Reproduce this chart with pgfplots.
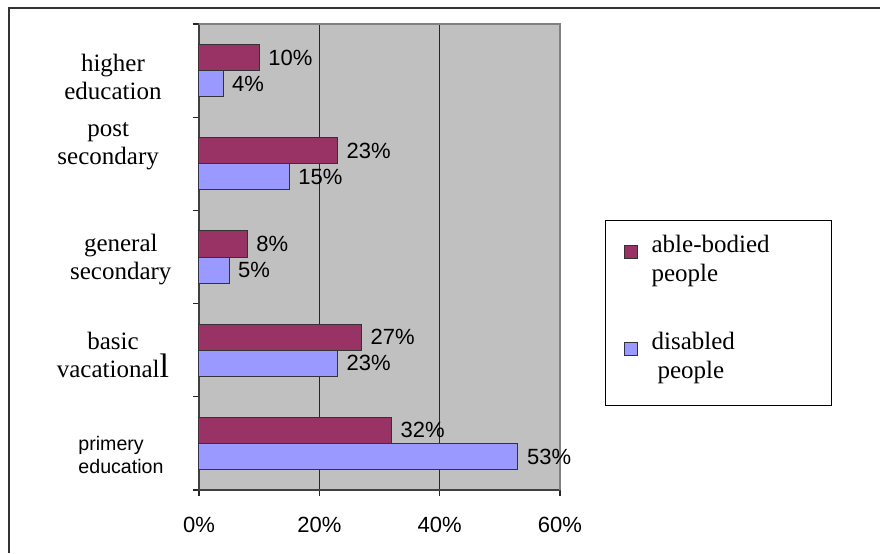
\documentclass[border=0pt]{standalone}
\usepackage{pgfplots}
\pgfplotsset{compat=1.18}
\usepackage{fontspec}
\setmainfont{Liberation Serif}
\newfontfamily\arial{Liberation Sans}
\definecolor{maroon}{HTML}{993366}
\definecolor{lav}{HTML}{9999FF}
\definecolor{bg}{HTML}{C0C0C0}
\newcommand\catfont{\fontsize{12.5}{14}\selectfont}
\newcommand\legfont{\fontsize{12.5}{14.5}\selectfont}
\newcommand\numfont{\arial\fontsize{11}{12}\selectfont}
\begin{document}
\begin{tikzpicture}
\useasboundingbox (0,0) rectangle (440pt,276.5pt);
\draw[line width=1pt, black!80] (4.5pt,0) -- (4.5pt,272.5pt) -- (440pt,272.5pt);
\begin{axis}[
  at={(99.5pt,31.5pt)}, anchor=south west,
  width=180.5pt, height=233pt, scale only axis,
  xbar, bar width=0.28,
  xmin=0, xmax=60, ymin=-0.5, ymax=4.5,
  axis background/.style={fill=bg},
  axis line style={draw=black!75, line width=0.6pt},
  xtick={0,20,40,60}, xticklabels={0\%,20\%,40\%,60\%},
  xticklabel style={font=\numfont, yshift=-7pt},
  ytick={-0.5,0.5,1.5,2.5,3.5,4.5}, yticklabels={},
  xtick pos=bottom, ytick pos=left,
  tick align=outside, major tick length=3pt,
  tick style={black!85, line width=0.6pt},
  xmajorgrids, grid style={black!85, line width=0.6pt},
  clip=false,
  point meta=x,
  nodes near coords={\pgfmathprintnumber[assume math mode=true]{\pgfplotspointmeta}\%},
  nodes near coords style={font=\numfont, anchor=west, xshift=1pt},
  legend cell align=left,
  legend style={at={(1.1247,0.5794)}, anchor=north west, draw=black, line width=0.6pt,
    inner xsep=9pt, inner ysep=4pt, row sep=18pt, column sep=5pt,
    cells={anchor=base west}, font=\legfont},
  legend image code/.code={\draw[#1, line width=0.5pt] (0pt,11.5pt) rectangle (6.5pt,18pt);},
]
\addplot[fill=maroon, draw=black!80, line width=0.5pt, bar shift=0.14]
  coordinates {(32,0) (27,1) (8,2) (23,3) (10,4)};
\addlegendentry{\begin{tabular}[b]{@{}p{79pt}@{}}able-bodied\\people\end{tabular}}
\addplot[fill=lav, draw=black!80, line width=0.5pt, bar shift=-0.14,
  legend image code/.code={\draw[fill=lav, draw=black!80, line width=0.5pt] (0pt,11.5pt) rectangle (6.5pt,18pt); \path (0pt,-9.5pt);}]
  coordinates {(53,0) (23,1) (5,2) (15,3) (4,4)};
\addlegendentry{\begin{tabular}[b]{@{}p{79pt}@{}}disabled\\\hspace{3pt}people\end{tabular}}
\draw[black!50, line width=0.6pt] (rel axis cs:0,1) -- (rel axis cs:1,1) -- (rel axis cs:1,0);
\node[align=center, font=\catfont] at (axis cs:-14.3,3.937) {higher\\education};
\node[align=center, font=\catfont] at (axis cs:-15.1,3.187) {post\\secondary};
\node[align=center, font=\catfont] at (axis cs:-13.0,1.976) {general\\secondary};
\node[align=center, font=\catfont] at (axis cs:-14.3,0.947) {basic\\vacational{\fontsize{17}{14}\selectfont l}};
\node[align=left, anchor=west, font=\arial\fontsize{9.8}{11.5}\selectfont, inner sep=0pt] at (axis cs:-20.1,-0.125) {primery\\education};
\end{axis}
\end{tikzpicture}
\end{document}
